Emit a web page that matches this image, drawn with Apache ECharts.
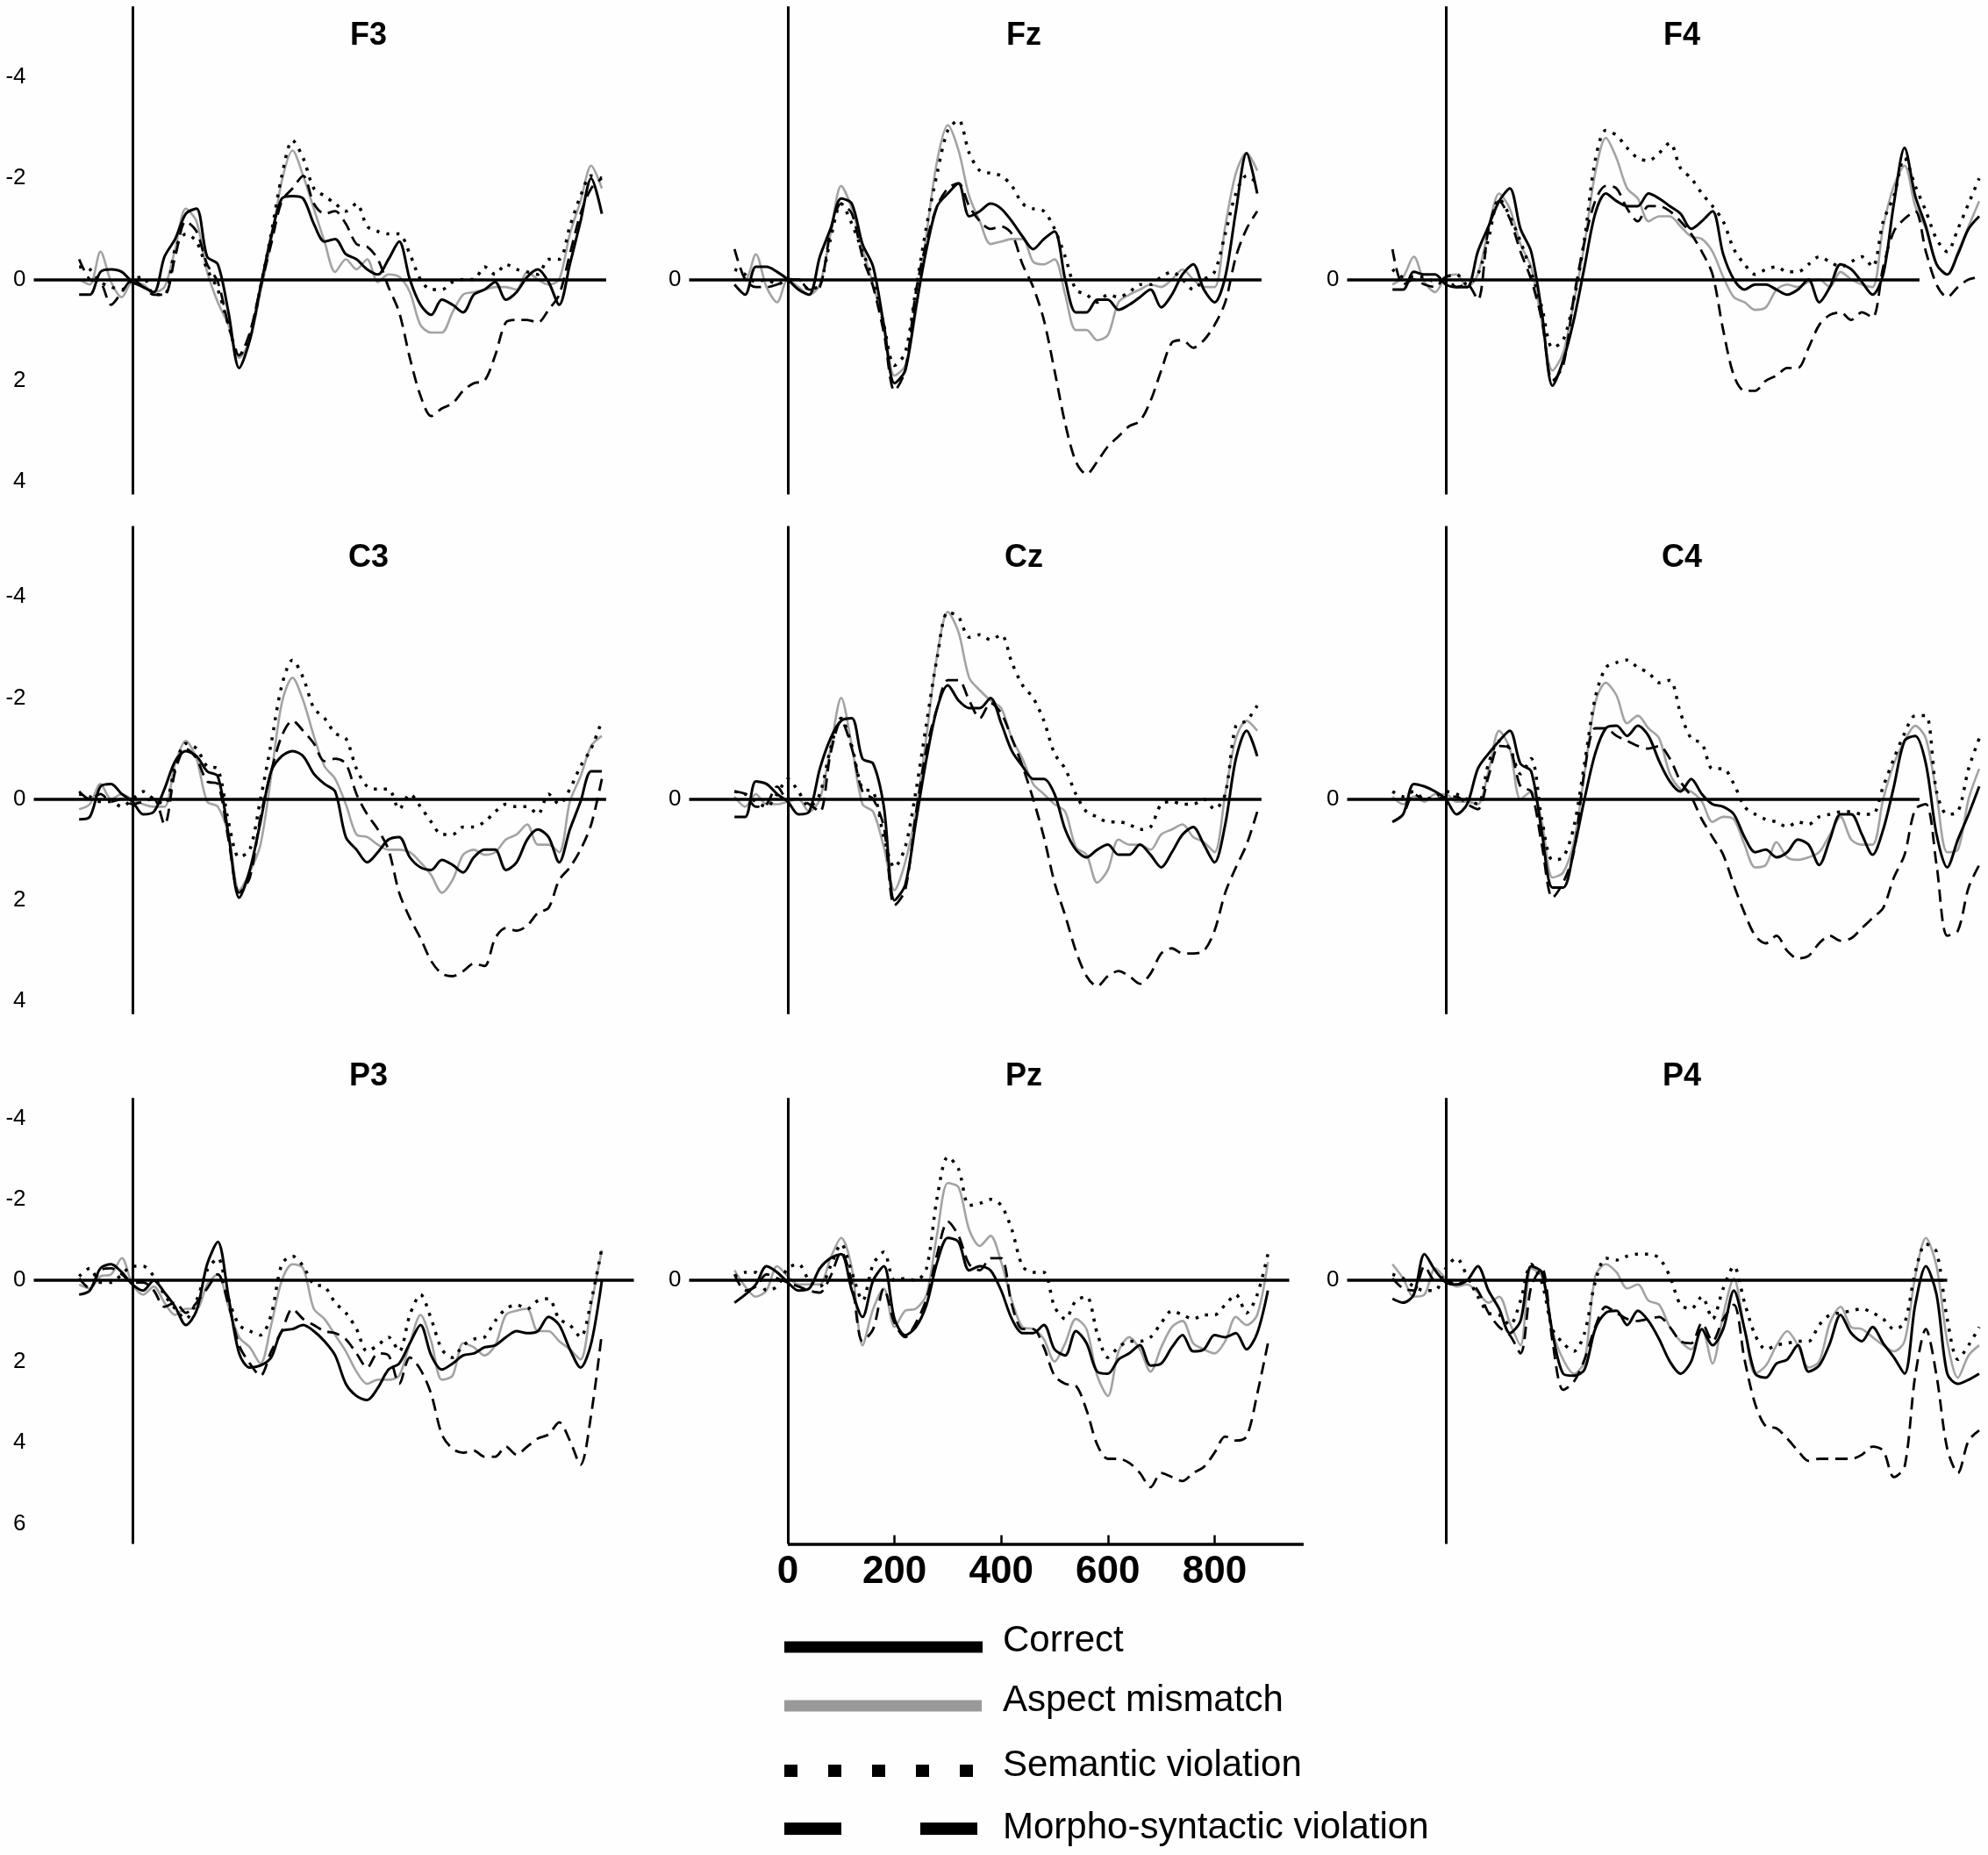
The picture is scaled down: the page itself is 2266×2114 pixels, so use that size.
<!DOCTYPE html>
<html>
<head>
<meta charset="utf-8">
<title>ERP waveforms</title>
<script src="https://cdn.jsdelivr.net/npm/echarts@6.0.0/dist/echarts.min.js"></script>
<style>
html, body { margin: 0; padding: 0; background: #fff; }
#chart { width: 2266px; height: 2114px; }
</style>
</head>
<body>
<div id="chart"></div>
<script>
// sample times (ms)
var times = [-100,-80,-60,-40,-20,0,20,40,60,80,100,120,140,160,180,200,220,240,260,280,
  300,320,340,360,380,400,420,440,460,480,500,520,540,560,580,600,620,640,660,680,
  700,720,740,760,780,800,820,840,860,880,900,920,940,960,980,1000];

var conditions = ['Correct', 'Aspect mismatch', 'Semantic violation', 'Morpho-syntactic violation'];
var electrodes = ['F3', 'Fz', 'F4', 'C3', 'Cz', 'C4', 'P3', 'Pz', 'P4'];

// amplitudes (µV), negative plotted up
var f3Correct = [0.3,0.3,-0.15,-0.2,-0.15,0.05,0.15,0.25,-0.45,-0.8,-1.3,-1.4,-0.45,-0.3,0.65,1.75,1.2,0.15,-0.85,-1.6,
  -1.65,-1.6,-1.1,-0.75,-0.8,-0.5,-0.4,-0.2,-0.1,-0.4,-0.75,0,0.5,0.7,0.4,0.5,0.65,0.3,0.2,0.05,
  0.4,0.25,-0.05,-0.2,0.05,0.5,-0.3,-1.15,-2.0,-1.3];
var f3Aspect = [0,0.1,-0.55,0.05,0.35,0.05,0.1,0.25,0.15,-0.6,-1.4,-1.15,-0.15,0.45,0.9,1.55,1.2,0.25,-0.75,-1.95,
  -2.55,-2.05,-1.4,-0.75,-0.15,-0.4,-0.2,-0.4,0.05,-0.1,-0.05,0.25,0.9,1.05,1.05,0.65,0.3,0.25,0.2,0.15,
  0.15,0.2,-0.15,0,0.1,0,-0.9,-1.55,-2.25,-1.8];
var f3Semantic = [-0.25,-0.2,0.05,0.15,0.2,0,-0.05,0.3,0.3,-0.6,-0.9,-0.75,-0.2,0.2,0.9,1.5,1.1,0.15,-0.9,-2.05,
  -2.75,-2.4,-1.8,-1.65,-1.5,-1.35,-1.5,-1.05,-0.95,-0.9,-0.9,-0.5,0,0.2,0.2,0.05,0,0,-0.25,-0.1,
  -0.3,-0.2,-0.15,-0.1,-0.4,-0.4,-1.05,-1.65,-2.05,-2.0];
var f3Morpho = [-0.4,0,0.05,0.5,0.25,0,0.15,0.3,0.3,-0.45,-1.15,-0.95,-0.3,0.05,0.9,1.5,1.05,0.15,-0.7,-1.55,
  -1.8,-2.05,-1.5,-1.3,-1.35,-1.1,-0.7,-0.65,-0.4,0.15,0.65,1.55,2.3,2.7,2.55,2.45,2.2,2.05,2.0,1.5,
  0.85,0.8,0.8,0.85,0.6,0.3,-0.5,-1.3,-1.8,-2.0];

var fzCorrect = [0.1,0.3,-0.25,-0.25,-0.15,0,0.2,0.3,-0.45,-1.0,-1.6,-1.5,-0.7,-0.25,0.9,2.05,1.8,0.55,-0.6,-1.45,
  -1.7,-1.9,-1.25,-1.35,-1.5,-1.4,-1.15,-0.85,-0.6,-0.8,-0.95,0,0.65,0.65,0.4,0.4,0.6,0.5,0.35,0.2,
  0.55,0.3,-0.1,-0.3,0.2,0.45,-0.05,-1.35,-2.5,-1.7];
var fzAspect = [0,0,-0.5,0.15,0.45,0,0.15,0.3,0.1,-0.9,-1.85,-1.4,-0.6,0.1,0.9,1.9,1.7,0.65,-0.9,-2.35,
  -3.05,-2.55,-1.65,-1.15,-0.7,-0.75,-0.8,-0.8,-0.35,-0.3,-0.4,0.3,1.0,1.0,1.2,1.1,0.45,0.3,0.2,0.1,
  0.15,0,-0.2,0,0.15,0.15,-1.05,-2.1,-2.5,-2.15];
var fzSemantic = [-0.2,-0.1,0.05,0,0.1,0,0,0.2,0.1,-0.8,-1.5,-1.1,-0.55,0,0.9,1.7,1.45,0.2,-1.05,-2.1,
  -2.95,-3.15,-2.5,-2.15,-2.1,-2.05,-1.85,-1.5,-1.4,-1.35,-1.0,-0.45,0.2,0.3,0.45,0.3,0.35,0.25,0.1,0.1,
  -0.05,-0.15,0,0.2,0,-0.15,-0.9,-1.7,-2.05,-1.9];
var fzMorpho = [-0.6,0,0.15,0.15,0.1,0,0,0.2,0.15,-0.95,-1.5,-1.3,-0.45,0.15,1.05,2.2,1.8,0.25,-0.75,-1.45,
  -1.8,-1.9,-1.45,-1.15,-1.0,-1.05,-0.9,-0.3,0.15,0.8,1.8,2.85,3.6,3.85,3.6,3.3,3.1,2.9,2.8,2.4,
  1.8,1.25,1.2,1.35,1.2,0.9,0.45,-0.45,-1.0,-1.35];

var f4Correct = [0.2,0.2,-0.15,-0.1,-0.1,0.1,0.15,0.15,-0.55,-1.05,-1.55,-1.8,-1.0,-0.55,0.65,2.1,1.6,0.8,-0.25,-1.3,
  -1.7,-1.55,-1.45,-1.45,-1.7,-1.6,-1.45,-1.3,-1.0,-1.15,-1.35,-0.5,0,0.2,0.1,0.1,0.2,0.3,0.2,0,
  0.45,0.15,-0.3,-0.2,0.05,0.3,-0.1,-1.5,-2.6,-1.65,-1.05,-0.3,-0.1,-0.5,-1.0,-1.25];
var f4Aspect = [0.1,-0.05,-0.45,0.05,0.25,-0.05,-0.1,0.15,-0.1,-1.0,-1.7,-1.4,-0.7,-0.25,0.85,1.8,1.45,0.45,-0.7,-2.1,
  -2.8,-2.4,-1.8,-1.6,-1.15,-1.25,-1.25,-1.05,-0.85,-0.8,-0.55,-0.05,0.35,0.45,0.6,0.55,0.2,0.1,0.15,0.05,
  0,0.15,-0.15,0,0.1,0.15,-1.05,-1.85,-2.25,-1.45,-1.0,-0.3,-0.1,-0.55,-1.05,-1.55];
var f4Semantic = [-0.2,-0.05,-0.05,-0.05,0.05,-0.05,-0.1,0.1,-0.1,-0.8,-1.6,-1.25,-0.75,-0.15,0.55,1.35,1.2,0.4,-0.8,-2.35,
  -2.95,-2.85,-2.6,-2.4,-2.35,-2.5,-2.7,-2.2,-2.0,-1.7,-1.45,-1.15,-0.6,-0.3,-0.1,-0.2,-0.25,-0.15,-0.15,-0.3,
  -0.45,-0.35,-0.25,-0.35,-0.45,-0.25,-1.15,-1.65,-2.4,-1.85,-1.35,-0.8,-0.55,-1.0,-1.5,-2.0];
var f4Morpho = [-0.6,0.1,0,0.1,0.15,-0.05,0.15,0.1,0.4,-1.0,-1.55,-1.2,-0.55,0,0.8,2.0,1.7,0.35,-0.75,-1.55,
  -1.85,-1.8,-1.4,-1.15,-1.45,-1.45,-1.35,-1.15,-0.9,-0.55,-0.1,1.0,1.9,2.2,2.2,2.0,1.9,1.75,1.75,1.35,
  0.9,0.7,0.65,0.8,0.65,0.75,-0.25,-0.95,-1.2,-1.35,-0.55,0.1,0.35,0.15,0,-0.05];

var c3Correct = [0.4,0.35,-0.25,-0.3,-0.1,0.05,0.3,0.25,-0.2,-0.75,-0.95,-0.85,-0.55,-0.45,0.7,1.95,1.4,0.45,-0.55,-0.85,
  -0.95,-0.85,-0.5,-0.3,-0.15,0.75,1.0,1.25,1.05,0.8,0.75,1.15,1.35,1.4,1.2,1.3,1.45,1.15,1.0,1.0,
  1.4,1.25,0.8,0.6,0.75,1.25,0.6,0.05,-0.55,-0.55];
var c3Aspect = [0.2,0.1,-0.3,0,-0.1,0,0.1,0.15,0.15,-0.7,-1.15,-0.8,0.05,0.15,0.7,1.8,1.45,0.9,-0.45,-1.9,
  -2.4,-1.95,-1.25,-0.65,-0.4,0.1,0.7,0.75,0.9,1.0,1.0,1.05,1.25,1.5,1.85,1.6,1.1,1.0,1.1,1.05,
  0.8,0.7,0.5,0.9,0.9,1.05,0.05,-0.45,-1.05,-1.25];
var c3Semantic = [-0.1,-0.05,0.05,0.05,0.15,0,-0.15,0,0.1,-0.65,-1.1,-1.0,-0.65,-0.6,0.45,1.15,1.0,0,-1.1,-2.25,
  -2.75,-2.4,-1.8,-1.6,-1.3,-1.2,-0.6,-0.25,-0.2,-0.2,0.2,-0.1,0.15,0.45,0.7,0.7,0.55,0.55,0.45,0.25,
  0.1,0.15,0.15,0.3,-0.1,0.1,-0.2,-0.65,-1.0,-1.55];
var c3Morpho = [-0.15,0,-0.1,0.05,0,0.1,0.05,0,0.5,-0.55,-1.0,-0.8,-0.35,-0.3,0.8,1.85,1.55,0.35,-0.55,-1.25,
  -1.55,-1.35,-1.1,-0.75,-0.8,-0.7,-0.1,0.3,0.6,1.0,1.85,2.35,2.75,3.2,3.45,3.5,3.4,3.25,3.3,2.75,
  2.55,2.6,2.5,2.25,2.15,1.6,1.35,1.0,0.5,-0.4];

var czCorrect = [0.35,0.35,-0.35,-0.3,-0.1,0.05,0.3,0.25,-0.6,-1.2,-1.55,-1.6,-0.8,-0.7,0.15,2.0,1.7,0.45,-0.8,-1.8,
  -2.25,-1.95,-1.8,-1.8,-2.0,-1.5,-0.95,-0.65,-0.4,-0.4,-0.1,0.6,1.0,1.15,1.0,0.9,1.1,1.1,0.9,1.1,
  1.35,1.05,0.7,0.55,0.9,1.25,0.5,-0.8,-1.35,-0.85];
var czAspect = [-0.05,0.15,-0.1,0.1,0.1,0.05,0,0.25,0,-1.0,-2.0,-1.05,0.1,0.25,0.95,1.8,1.25,0.25,-1.25,-2.85,
  -3.7,-3.3,-2.4,-2.15,-1.95,-1.8,-1.2,-0.8,-0.3,-0.1,0.1,0.25,0.95,1.1,1.65,1.4,0.8,0.9,0.9,1.0,
  0.7,0.6,0.5,0.75,0.85,1.05,-0.1,-1.2,-1.55,-1.35];
var czSemantic = [-0.15,-0.1,0.05,0.15,-0.1,-0.4,-0.15,0.15,-0.1,-1.0,-1.6,-1.05,-0.2,-0.15,0.75,1.35,0.95,-0.15,-1.5,-2.8,
  -3.7,-3.6,-3.2,-3.25,-3.15,-3.25,-2.7,-2.25,-2.0,-1.55,-0.9,-0.6,-0.1,0.25,0.35,0.45,0.45,0.5,0.6,0.55,
  0.1,0.05,0.1,0.1,0,0.2,-0.1,-1.45,-1.55,-1.85];
var czMorpho = [-0.15,-0.1,0.15,0.1,-0.25,0,0,0.1,0.25,-0.9,-1.55,-1.0,-0.15,0,0.55,2.1,1.8,0.3,-1.0,-1.8,
  -2.35,-2.35,-1.95,-1.6,-1.9,-1.7,-1.2,-0.65,0,0.75,1.65,2.3,3.0,3.5,3.7,3.5,3.4,3.5,3.65,3.45,
  3.05,2.95,3.05,3.05,3.0,2.6,1.85,1.35,0.9,0.25];

var c4Correct = [0.45,0.3,-0.3,-0.25,-0.15,0,0.3,0.1,-0.6,-0.9,-1.15,-1.35,-0.7,-0.55,0.65,1.75,1.75,1.0,0,-0.9,
  -1.4,-1.45,-1.25,-1.45,-1.25,-0.75,-0.35,-0.15,-0.4,-0.1,0.1,0.15,0.3,0.75,1.05,1.0,1.15,1.05,0.8,0.9,
  1.3,0.8,0.3,0.3,0.7,1.1,0.6,-0.25,-1.15,-1.25,-0.7,0.7,1.35,0.8,0.3,-0.25];
var c4Aspect = [-0.05,0.1,-0.05,0.05,-0.1,-0.1,0.05,0.05,0.1,-0.55,-1.35,-1.0,0,-0.15,0.45,1.55,1.45,0.85,-0.5,-1.9,
  -2.3,-2.05,-1.5,-1.65,-1.4,-1.2,-0.5,-0.2,-0.15,0.05,0.45,0.35,0.4,0.9,1.35,1.3,0.85,1.15,1.2,1.15,
  1.05,0.7,0.35,0.8,0.9,0.9,0,-0.7,-1.15,-1.45,-1.2,-0.1,1.05,1.0,0,-0.6];
var c4Semantic = [-0.15,-0.05,-0.15,0,-0.05,-0.15,-0.1,0,0.1,-0.7,-1.15,-1.0,-0.5,-0.8,0.4,1.2,1.15,0.55,-0.7,-2.0,
  -2.6,-2.7,-2.75,-2.6,-2.5,-2.3,-2.35,-1.7,-1.2,-1.1,-0.6,-0.6,-0.3,0.15,0.3,0.4,0.45,0.55,0.45,0.5,
  0.35,0.3,0.25,0.25,0.3,0.3,-0.25,-0.8,-1.3,-1.65,-1.65,-0.15,0.3,0.25,-0.6,-1.2];
var c4Morpho = [0.45,0.3,-0.1,0,0,-0.05,-0.05,0.1,0.2,-0.45,-1.05,-1.0,-0.25,-0.15,0.9,1.95,1.65,1.05,-0.55,-1.4,
  -1.4,-1.25,-1.15,-1.05,-1.0,-1.05,-0.8,-0.35,-0.05,0.4,0.75,1.1,1.7,2.25,2.7,2.85,2.7,3.0,3.15,3.1,
  2.85,2.7,2.8,2.75,2.55,2.35,2.15,1.55,1.1,0.2,0.1,1.3,2.7,2.6,1.75,1.3];

var p3Correct = [0.35,0.25,-0.3,-0.4,-0.2,0.1,0.25,0,0.3,0.65,1.1,0.75,-0.4,-0.95,0.4,1.8,2.15,2.1,1.9,1.25,
  1.2,1.1,1.25,1.5,1.85,2.55,2.85,2.95,2.65,2.2,2.05,1.55,1.1,1.85,2.2,2.05,1.85,1.8,1.65,1.6,
  1.4,1.25,1.3,1.25,0.9,1.1,1.7,2.15,1.55,0];
var p3Aspect = [0.1,0.2,-0.1,-0.15,-0.55,0.1,0.35,0.15,0.55,0.85,0.7,0.7,0.1,-0.15,0.65,1.4,1.65,2.05,1.1,0,
  -0.4,-0.3,0.7,0.95,1.35,1.75,2.25,2.55,2.45,2.45,2.35,1.55,0.85,1.5,2.45,2.35,1.55,1.65,1.85,1.6,
  0.85,0.75,0.7,1.25,1.25,1.5,1.7,1.95,0.6,-0.75];
var p3Semantic = [-0.1,-0.3,0.05,0.05,-0.15,-0.35,-0.35,-0.1,0.35,0.7,0.95,0.5,-0.25,-0.55,0.45,1.1,1.25,1.35,0.85,-0.4,
  -0.6,-0.35,0.1,0.15,0.55,0.8,1.2,1.75,1.6,1.4,1.75,0.85,0.35,0.95,1.7,1.9,1.6,1.45,1.4,1.0,
  0.7,0.6,0.7,0.5,0.45,0.95,1.1,1.4,0.5,-0.8];
var p3Morpho = [-0.05,0.2,-0.25,-0.3,-0.15,0.05,0.05,0.25,0.65,0.55,0.8,0.55,0.2,-0.15,0.6,1.6,2.05,2.35,1.75,1.25,
  0.7,0.95,1.1,1.25,1.3,1.45,1.8,2.15,1.8,1.85,2.55,1.9,2.2,2.8,3.8,4.15,4.25,4.2,4.35,4.35,
  4.1,4.3,4.1,3.9,3.8,3.5,3.95,4.55,3.3,1.3];

var pzCorrect = [0.55,0.35,0.1,-0.35,-0.2,0.05,0.25,0.2,-0.3,-0.55,-0.65,0.25,0.9,0,-0.35,0.95,1.35,1.15,0.6,-0.45,
  -1.05,-0.95,-0.25,-0.35,-0.25,0.25,0.95,1.3,1.3,1.1,1.7,1.85,1.25,1.55,2.25,2.3,1.95,1.8,1.6,2.1,
  2.05,1.65,1.35,1.75,1.7,1.35,1.4,1.3,1.7,1.3,0.25];
var pzAspect = [-0.25,0.15,0.4,0.25,-0.35,-0.1,0.1,0.1,0.1,-0.55,-1.05,-0.3,1.6,0.7,0.2,1.15,0.75,0.7,0.35,-1.15,
  -2.4,-2.3,-1.25,-0.85,-1.1,-0.45,0.5,1.15,1.2,1.45,2.0,1.55,0.95,1.2,2.35,2.85,1.75,1.4,1.7,2.25,
  1.65,1.15,1.0,1.55,1.7,1.8,1.5,0.9,1.1,0.85,-0.45];
var pzSemantic = [-0.1,-0.2,-0.2,0.25,0.15,-0.3,-0.4,0,0.15,-0.35,-0.9,-0.2,0.5,-0.4,-0.7,0,-0.05,0,-0.3,-2.05,
  -3.05,-2.75,-1.85,-1.9,-2.0,-1.85,-1.25,-0.35,-0.2,-0.2,0.65,0.95,0.5,0.4,1.3,1.9,1.65,1.5,1.5,1.4,
  1.05,0.75,0.85,0.95,0.85,0.85,0.6,0.35,0.8,0.35,-0.65];
var pzMorpho = [-0.15,0.25,0.15,-0.15,-0.05,0.05,0.15,0.25,0.3,-0.1,-0.7,0.05,1.5,1.2,0.2,1.05,1.4,1.05,0.45,-0.65,
  -1.45,-1.1,-0.4,-0.25,-0.55,-0.55,0.6,1.2,1.2,1.65,2.35,2.55,2.6,3.2,4.05,4.4,4.4,4.5,4.75,5.1,
  4.75,4.85,4.95,4.75,4.6,4.25,3.85,3.95,3.85,2.8,1.55];

var p4Correct = [0.45,0.55,0.35,-0.65,-0.25,0.05,0.1,0,-0.35,0.25,0.7,1.3,1.0,-0.35,-0.2,1.3,2.3,2.35,2.2,1.2,
  0.8,0.75,1.1,0.75,1.0,1.45,2.0,2.3,2.0,1.2,1.6,1.2,0.25,1.2,2.3,2.4,2.05,1.95,1.6,2.25,
  2.1,1.55,0.85,1.3,1.5,1.15,1.55,1.9,2.3,0.6,-0.35,0.35,2.3,2.55,2.45,2.3];
var p4Aspect = [-0.4,-0.05,0.4,0.35,-0.3,-0.05,0.15,0.1,0.3,0.55,0.4,1.05,1.6,-0.3,-0.1,1.25,1.95,2.3,2.0,-0.1,
  -0.4,-0.2,0.2,0.1,0.5,0.6,1.15,1.5,1.7,1.2,2.05,0.85,-0.05,1.2,2.3,2.1,1.6,1.25,1.6,2.15,
  2.0,1.05,0.65,1.15,1.2,1.4,1.6,1.75,1.5,-0.1,-1.05,-0.35,1.5,2.4,1.85,1.6];
var p4Semantic = [-0.15,-0.05,0.15,0.25,0.25,-0.3,-0.55,-0.1,0.4,0.8,0.85,1.1,0.5,-0.4,0.05,1.2,1.55,1.75,1.3,0.05,
  -0.55,-0.5,-0.6,-0.65,-0.65,-0.55,-0.1,0.6,0.7,0.4,0.95,0.2,-0.35,0.55,1.35,1.7,1.6,1.55,1.5,1.5,
  1.1,0.85,0.8,0.75,0.7,0.8,0.95,1.2,1.05,-0.2,-0.9,-0.7,0.95,1.95,1.6,1.15];
var p4Morpho = [-0.05,0.2,0.25,-0.35,0,0,0.1,0,0.25,0.8,1.15,1.35,1.8,0.15,-0.3,1.5,2.7,2.5,1.95,1.15,
  0.65,0.8,0.95,1.0,0.95,0.9,1.15,1.5,1.55,1.05,1.5,0.95,0.6,1.95,3.05,3.6,3.65,3.9,4.2,4.45,
  4.4,4.4,4.4,4.4,4.3,4.1,4.2,4.85,4.6,2.35,1.2,2.35,4.15,4.75,3.95,3.7];

// tick labels
var yTicksLeft = [[-4, -2, 0, 2, 4], [-4, -2, 0, 2, 4], [-4, -2, 0, 2, 4, 6]];
var yTicksOther = [0];
var timeTicks = [0, 200, 400, 600, 800];

// layout
var pxPerMs = 0.608;
var xMin = -185, xMax = 1000;
var colZeroX = [151, 898, 1648];
var rowZeroY = [318.5, 910.7, 1459.2];
var rowPxPerUv = [57.65, 57.65, 46.2];
var rowYMin = [-5.4, -5.4, -4.5];
var rowYMax = [4.25, 4.25, 6.5];
var rowZeroEnd = [888, 888, 940];
var rowTitleY = [41, 636, 1227];
var timeAxisEnd = 967;

var panelData = [
  [f3Correct, f3Aspect, f3Semantic, f3Morpho],
  [fzCorrect, fzAspect, fzSemantic, fzMorpho],
  [f4Correct, f4Aspect, f4Semantic, f4Morpho],
  [c3Correct, c3Aspect, c3Semantic, c3Morpho],
  [czCorrect, czAspect, czSemantic, czMorpho],
  [c4Correct, c4Aspect, c4Semantic, c4Morpho],
  [p3Correct, p3Aspect, p3Semantic, p3Morpho],
  [pzCorrect, pzAspect, pzSemantic, pzMorpho],
  [p4Correct, p4Aspect, p4Semantic, p4Morpho]
];

var fontName = '"Liberation Sans", Arial, sans-serif';

// line style of each condition
var condStyle = [
  { color: '#000', width: 3, type: 'solid' },
  { color: '#a3a3a3', width: 2.6, type: 'solid' },
  { color: '#000', width: 3.5, type: [3.5, 8], cap: 'butt' },
  { color: '#000', width: 2.8, type: [14, 8], cap: 'butt' }
];
// draw order: gray first, black solid last
var drawOrder = [1, 2, 3, 0];

function pairs(vals) {
  var out = [];
  for (var i = 0; i < vals.length; i++) {
    out.push([times[i], vals[i]]);
  }
  return out;
}

var grids = [], xAxes = [], yAxes = [], series = [], graphics = [];

for (var p = 0; p < electrodes.length; p++) {
  var row = Math.floor(p / 3), col = p % 3;
  var pxUv = rowPxPerUv[row];
  var isPz = electrodes[p] === 'Pz';

  grids.push({
    left: colZeroX[col] + xMin * pxPerMs,
    top: rowZeroY[row] + rowYMin[row] * pxUv,
    width: (xMax - xMin) * pxPerMs,
    height: (rowYMax[row] - rowYMin[row]) * pxUv
  });

  xAxes.push({
    type: 'value', gridIndex: p, min: xMin, max: xMax,
    show: isPz, position: 'bottom',
    axisLine: { show: false, onZero: false },
    splitLine: { show: false },
    axisTick: { show: isPz, inside: true, length: 10, customValues: [200, 400, 600, 800],
      lineStyle: { color: '#000', width: 2.5 } },
    axisLabel: { show: isPz, customValues: timeTicks, color: '#000', fontSize: 44,
      fontWeight: 'bold', fontFamily: fontName, margin: 10 }
  });

  yAxes.push({
    type: 'value', gridIndex: p, inverse: true,
    min: rowYMin[row], max: rowYMax[row],
    axisLine: { show: false, onZero: false },
    axisTick: { show: false },
    splitLine: { show: false },
    axisLabel: { customValues: col === 0 ? yTicksLeft[row] : yTicksOther,
      color: '#000', fontSize: 26, fontFamily: fontName, margin: 9 }
  });

  for (var k = 0; k < drawOrder.length; k++) {
    var c = drawOrder[k];
    var s = {
      name: conditions[c], type: 'line', xAxisIndex: p, yAxisIndex: p,
      data: pairs(panelData[p][c]),
      showSymbol: false, symbol: 'none', smooth: 0.3,
      lineStyle: condStyle[c], silent: true, z: 2 + k
    };
    if (c === 0) {
      // zero line, stimulus onset line, and the time axis under Pz
      var lines = [
        [{ coord: [xMin, 0], lineStyle: { width: 3.5 } }, { coord: [rowZeroEnd[row], 0] }],
        { xAxis: 0, lineStyle: { width: 3 } }
      ];
      if (isPz) {
        lines.push([{ coord: [0, rowYMax[row]], lineStyle: { width: 3.5 } }, { coord: [timeAxisEnd, rowYMax[row]] }]);
      }
      s.markLine = {
        silent: true, symbol: 'none', animation: false,
        label: { show: false },
        lineStyle: { color: '#000', type: 'solid' },
        data: lines
      };
    }
    series.push(s);
  }

  graphics.push({
    type: 'text', x: colZeroX[col] + 269, y: rowTitleY[row],
    style: { text: electrodes[p], fill: '#000', font: 'bold 36px ' + fontName,
      align: 'center', textAlign: 'center', verticalAlign: 'middle', textVerticalAlign: 'middle' }
  });
}

// legend drawn by hand
var legendY = [1877, 1944, 2018, 2084];
var legendTextY = [1870, 1938, 2012, 2083];
var legendStroke = ['#000', '#999', '#000', '#000'];
var legendDash = [null, null, [15, 35], [65, 90]];
var legendEnd = [1120, 1119, 1111, 1115];
for (var j = 0; j < conditions.length; j++) {
  var st = { stroke: legendStroke[j], lineWidth: j < 2 ? 13 : 14 };
  if (legendDash[j]) st.lineDash = legendDash[j];
  graphics.push({
    type: 'line', silent: true,
    shape: { x1: 894, y1: legendY[j], x2: legendEnd[j], y2: legendY[j] },
    style: st
  });
  graphics.push({
    type: 'text', x: 1143, y: legendTextY[j],
    style: { text: conditions[j], fill: '#000', font: '42px ' + fontName,
      verticalAlign: 'middle', textVerticalAlign: 'middle' }
  });
}

var myChart = echarts.init(document.getElementById('chart'));
myChart.setOption({
  backgroundColor: '#fefefe',
  animation: false,
  grid: grids,
  xAxis: xAxes,
  yAxis: yAxes,
  series: series,
  graphic: graphics
});
</script>
</body>
</html>
